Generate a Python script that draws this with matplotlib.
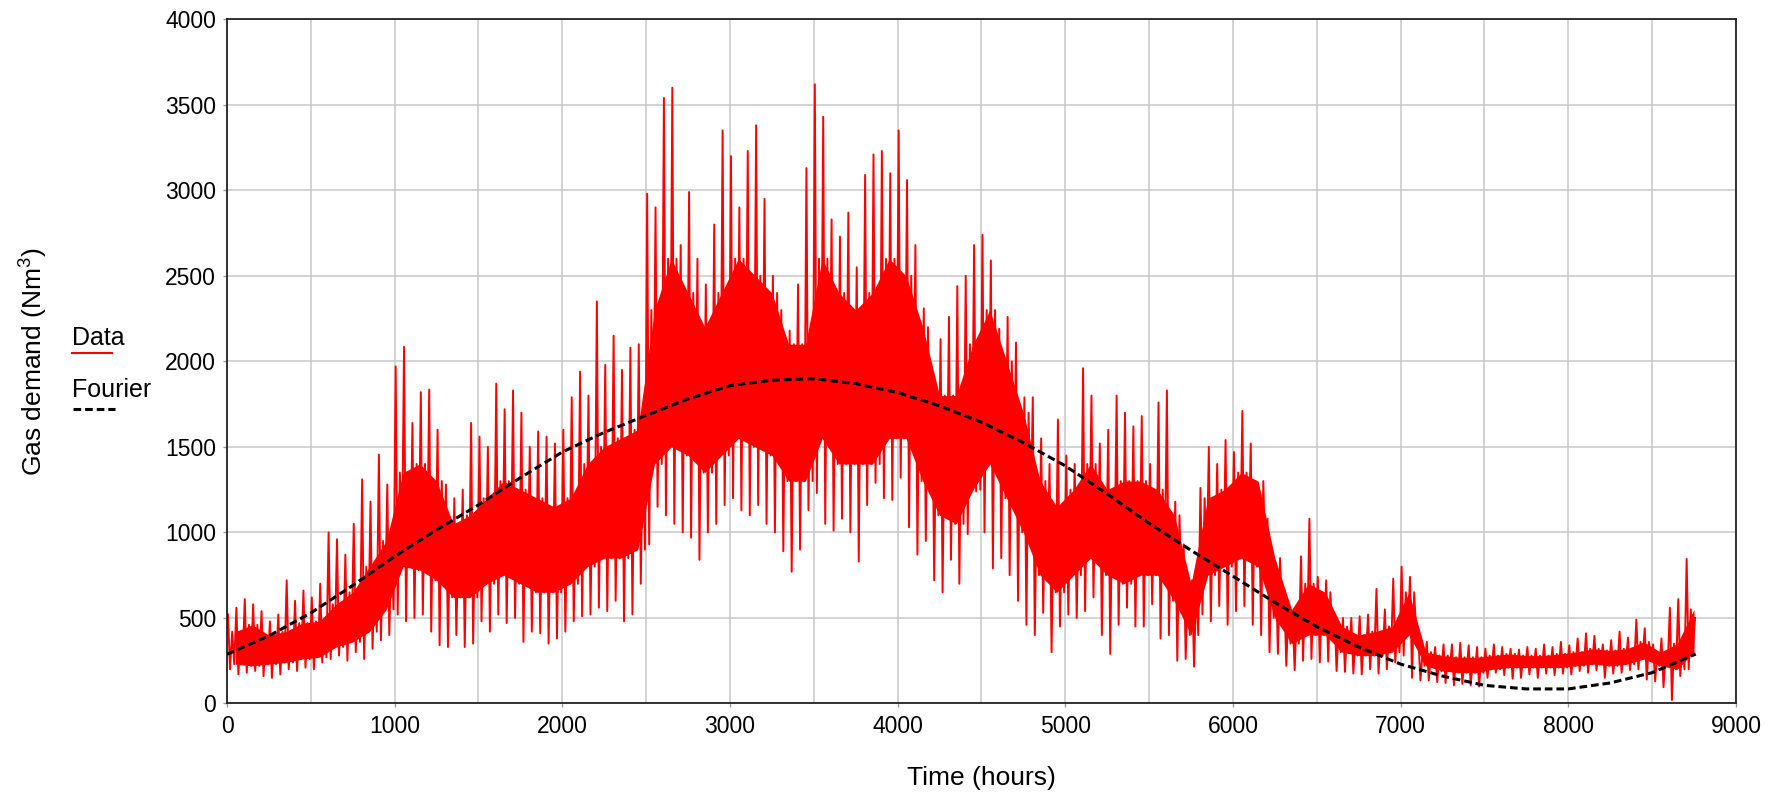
import numpy as np
import matplotlib.pyplot as plt
from matplotlib.lines import Line2D
from matplotlib.ticker import MultipleLocator

plt.rcParams['font.family'] = ['Liberation Sans', 'DejaVu Sans']
plt.rcParams['mathtext.fontset'] = 'custom'
plt.rcParams['mathtext.rm'] = 'Liberation Sans'

bin_hours = 50
data_hi = [
    520, 560, 610, 580, 540, 480, 520, 720, 600, 660,
    620, 700, 1000, 960, 870, 1050, 1310, 1180, 1455, 1280,
    1970, 2085, 1640, 1820, 1835, 1600, 1280, 1200, 1250, 1640,
    1560, 1500, 1870, 1720, 1830, 1700, 1500, 1590, 1560, 1520,
    1600, 1790, 1940, 1800, 2350, 1980, 2150, 1950, 2080, 2100,
    2980, 2900, 3540, 3600, 2680, 2990, 2600, 2450, 2800, 3350,
    3200, 2900, 3230, 3380, 2950, 2500, 2300, 2180, 2450, 3130,
    3620, 3430, 2830, 2730, 2870, 2550, 3090, 3210, 3230, 3100,
    3350, 3060, 2680, 2310, 1910, 2130, 2260, 2440, 2500, 2680,
    2740, 2590, 2190, 2260, 2110, 1790, 1790, 1550, 1400, 1660,
    1450, 1400, 1960, 1800, 1520, 1600, 1800, 1700, 1620, 1680,
    1400, 1760, 1830, 1180, 930, 720, 1260, 1500, 1400, 1540,
    1470, 1710, 1520, 1180, 1080, 820, 670, 510, 860, 1080,
    740, 720, 520, 500, 500, 510, 520, 670, 550, 730,
    800, 740, 380, 360, 330, 345, 345, 355, 340, 330,
    320, 345, 330, 320, 315, 330, 320, 345, 330, 360,
    340, 380, 410, 395, 345, 370, 420, 385, 490, 440,
    345, 380, 560, 610, 845, 500,
]
data_lo = [
    200, 170, 180, 190, 160, 150, 170, 200, 190, 210,
    200, 240, 260, 280, 250, 300, 260, 320, 370, 400,
    520, 480, 500, 520, 420, 340, 330, 400, 330, 350,
    480, 420, 520, 470, 500, 360, 420, 410, 350, 380,
    420, 480, 510, 520, 560, 540, 600, 480, 520, 700,
    930, 1150, 1100, 1050, 1000, 970, 840, 1000, 1050, 1160,
    1200, 1130, 1100, 1160, 1050, 1000, 890, 770, 900, 1130,
    1230, 1050, 1010, 1080, 1000, 830, 1160, 1290, 1200, 1190,
    1320, 1030, 870, 950, 720, 650, 840, 700, 990, 1240,
    1000, 790, 850, 750, 600, 460, 400, 530, 300, 450,
    520, 500, 540, 620, 400, 290, 460, 560, 450, 450,
    580, 380, 400, 250, 260, 215, 520, 480, 570, 460,
    540, 570, 460, 400, 300, 290, 220, 195, 250, 260,
    240, 245, 190, 185, 175, 170, 200, 175, 200, 240,
    280, 150, 135, 135, 125, 120, 106, 115, 106, 100,
    150, 180, 166, 145, 150, 170, 150, 175, 166, 175,
    170, 190, 180, 195, 150, 175, 180, 195, 200, 140,
    130, 95, 20, 160, 200, 150,
]

# typical (non-extreme) daily swing, read every 100 hours
core_lo = [
    230, 220, 230, 240, 260, 270, 330, 360, 420, 550,
    800, 780, 720, 620, 620, 700, 750, 700, 650, 650,
    700, 800, 850, 850, 900, 1400, 1500, 1450, 1350, 1450,
    1550, 1500, 1450, 1300, 1300, 1550, 1400, 1400, 1400, 1550,
    1550, 1300, 1100, 1050, 1250, 1400, 1200, 1000, 750, 650,
    750, 850, 750, 700, 750, 750, 600, 400, 750, 800,
    850, 800, 500, 350, 400, 400, 300, 280, 280, 300,
    400, 220, 190, 180, 180, 200, 210, 210, 210, 210,
    220, 230, 220, 230, 260, 220, 200, 300,
]
core_hi = [
    420, 460, 400, 420, 470, 480, 580, 650, 800, 950,
    1350, 1400, 1300, 1050, 1100, 1200, 1300, 1250, 1200, 1150,
    1200, 1400, 1500, 1550, 1600, 2300, 2600, 2400, 2200, 2400,
    2600, 2500, 2400, 2100, 2100, 2600, 2400, 2300, 2400, 2600,
    2500, 2200, 1800, 1800, 2100, 2300, 2000, 1700, 1300, 1150,
    1250, 1400, 1250, 1300, 1300, 1250, 1100, 700, 1200, 1250,
    1350, 1300, 850, 550, 700, 650, 450, 400, 420, 450,
    650, 300, 280, 270, 270, 280, 290, 280, 280, 290,
    300, 320, 310, 320, 360, 300, 350, 550,
]

# Fourier fit, read every 250 hours
fourier_t = [0, 250, 500, 750, 1000, 1250, 1500, 1750, 2000, 2250,
             2500, 2750, 3000, 3250, 3500, 3750, 4000, 4250, 4500, 4750,
             5000, 5250, 5500, 5750, 6000, 6250, 6500, 6750, 7000, 7250,
             7500, 7750, 8000, 8250, 8500, 8760]
fourier_v = [288, 395, 529, 690, 860, 1015, 1161, 1320, 1470, 1585,
             1684, 1780, 1858, 1890, 1899, 1870, 1818, 1740, 1644, 1525,
             1389, 1225, 1053, 895, 744, 590, 449, 330, 230, 160,
             106, 85, 85, 120, 180, 289]

# each 50 h block: extreme peak, extreme trough, then a typical day swing
n = len(data_hi)
t_start = np.arange(n) * bin_hours
core_idx = np.arange(n) // 2
t = np.column_stack([t_start + 6, t_start + 18, t_start + 31, t_start + 43]).ravel()
y = np.column_stack([data_hi, data_lo,
                     np.array(core_hi)[core_idx],
                     np.array(core_lo)[core_idx]]).ravel()
keep = t <= 8759
t, y = t[keep], y[keep]
core_t = np.arange(len(core_hi)) * 100 + 50

fig = plt.figure(figsize=(17.79, 7.93), dpi=100)
ax = fig.add_axes([0.1276, 0.1129, 0.8482, 0.8628])

ax.fill_between(core_t, core_lo, core_hi, color='#ff0000', lw=0, zorder=2)
ax.plot(t, y, color='#ff0000', lw=1.4, zorder=2)
ax.plot(fourier_t, fourier_v, color='black', lw=2.2, ls=(0, (2.5, 1.3)), zorder=3)

ax.set_xlim(0, 9000)
ax.set_ylim(0, 4000)
ax.xaxis.set_major_locator(MultipleLocator(1000))
ax.xaxis.set_minor_locator(MultipleLocator(500))
ax.yaxis.set_major_locator(MultipleLocator(500))
ax.grid(True, which='both', axis='x', color='#c8c8c8', lw=1.1, zorder=0)
ax.grid(True, which='major', axis='y', color='#c8c8c8', lw=1.1, zorder=0)
ax.set_axisbelow(True)
ax.tick_params(axis='both', which='major', labelsize=16.5, length=3, width=1,
               color='#999999', pad=5)
ax.tick_params(axis='x', which='minor', length=0)
for s in ax.spines.values():
    s.set_color('#222222')
    s.set_linewidth(1.3)

ax.set_xlabel('Time (hours)', fontsize=19)
ax.xaxis.set_label_coords(0.5, -0.092)
ax.set_ylabel('Gas demand (Nm$^3$)', fontsize=19)
ax.yaxis.set_label_coords(-0.118, 0.5)

# legend placed left of the axes
W, H = 1779, 793
fig.text(72 / W, 1 - 345 / H, 'Data', fontsize=18, ha='left', va='baseline')
fig.add_artist(Line2D([72 / W, 112 / W], [1 - 353 / H, 1 - 353 / H],
                      color='#ff0000', lw=1.5))
fig.text(72 / W, 1 - 397 / H, 'Fourier', fontsize=18, ha='left', va='baseline')
fig.add_artist(Line2D([73 / W, 115 / W], [1 - 409 / H, 1 - 409 / H],
                      color='black', lw=2.2, ls=(0, (2.5, 1.3))))

fig.savefig('out.png', dpi=100)
